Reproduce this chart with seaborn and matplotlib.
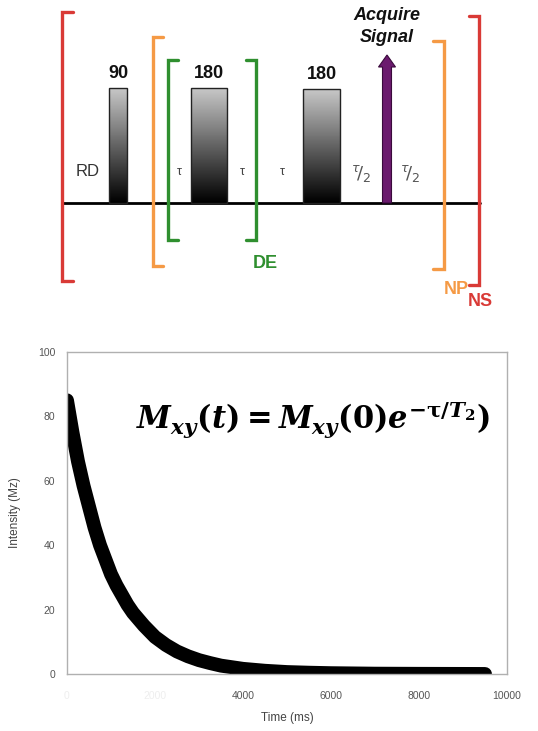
import numpy as np
import pandas as pd
import matplotlib
matplotlib.use("Agg")
import matplotlib.pyplot as plt
import matplotlib.patches as mpatches
import seaborn as sns

# ---- data ----
time_ms = [0, 125, 250, 375, 500, 625, 750, 875, 1000, 1125, 1250, 1375, 1500,
           1750, 2000, 2250, 2500, 2750, 3000, 3250, 3500, 4000, 4500, 5000,
           5500, 6000, 7000, 8000, 9000, 9500]
intensity = [85, 75, 66, 58.5, 52, 45.5, 40, 35.5, 31, 27.5, 24.5, 21.5, 19,
             15, 11.5, 9, 7, 5.5, 4.3, 3.4, 2.6, 1.6, 1.0, 0.6,
             0.4, 0.25, 0.1, 0.05, 0.02, 0.0]
x_ticks = [0, 2000, 4000, 6000, 8000, 10000]
y_ticks = [0, 20, 40, 60, 80, 100]
pulse_labels = ["90", "180", "180"]
delay_labels = ["RD", "τ", "τ", "τ", "τ/2", "τ/2"]
loop_labels = ["DE", "NP", "NS"]

sns.set_theme(style="white")
plt.rcParams["font.family"] = ["Liberation Sans", "DejaVu Sans"]
plt.rcParams["mathtext.fontset"] = "custom"
plt.rcParams["mathtext.it"] = "DejaVu Serif:italic:bold"
plt.rcParams["mathtext.rm"] = "DejaVu Serif:bold"
plt.rcParams["mathtext.bf"] = "DejaVu Serif:bold"

W, H = 538, 731
fig = plt.figure(figsize=(W / 100, H / 100), dpi=100)

# ---------- pulse sequence diagram (pixel coordinates) ----------
ov = fig.add_axes([0, 0, 1, 1])
ov.set_xlim(0, W)
ov.set_ylim(H, 0)
ov.axis("off")
ov.patch.set_alpha(0)

RED = "#d93a36"
ORANGE = "#f59a45"
GREEN = "#2f8f2f"
PURPLE = "#6b1a6e"

base_y = 203
ov.plot([62, 480], [base_y, base_y], color="black", lw=2, zorder=2)

grad = np.linspace(0.78, 0.0, 100).reshape(-1, 1)
pulses = [(109, 127, 88), (191, 227, 88), (303, 340, 89)]
for (x0, x1, top), lab in zip(pulses, pulse_labels):
    ov.imshow(grad, cmap="gray", vmin=0, vmax=1, extent=(x0, x1, base_y, top),
              aspect="auto", origin="upper", zorder=3)
    ov.add_patch(mpatches.Rectangle((x0, top), x1 - x0, base_y - top, fill=False,
                                    ec="#222222", lw=1.0, zorder=4))
    ov.text((x0 + x1) / 2, top - 6, lab, ha="center", va="bottom", fontsize=13,
            fontweight="bold", color="#111111")
ov.set_xlim(0, W)
ov.set_ylim(H, 0)


def bracket(x, y0, y1, tick, color):
    ov.plot([x + tick, x, x, x + tick], [y0, y0, y1, y1], color=color, lw=2.4,
            solid_joinstyle="miter", zorder=5)


bracket(62, 12, 281, 11, RED)
bracket(479, 16, 285, -10, RED)
bracket(153, 37, 266, 10, ORANGE)
bracket(444, 41, 269, -11, ORANGE)
bracket(168, 60, 240, 10, GREEN)
bracket(256, 60, 240, -10, GREEN)

# delays
ov.text(88, 172, delay_labels[0], ha="center", va="center", fontsize=12, color="#333333")
for xx, lab in zip([179, 242, 282], delay_labels[1:4]):
    ov.text(xx, 172, lab, ha="center", va="center", fontsize=9, color="#444444")
for xx in [361, 410]:
    ov.text(xx, 173, r"$^{τ}\!/_{2}$",
            ha="center", va="center", fontsize=13, color="#555555",
            family=["DejaVu Sans"], math_fontfamily="dejavusans")

# acquire arrow
ov.add_patch(mpatches.FancyArrow(387, base_y, 0, -148, width=9, head_width=17,
                                 head_length=12, length_includes_head=True,
                                 fc=PURPLE, ec="#3a0a3c", lw=0.8, zorder=6))
ov.text(387, 15, "Acquire", ha="center", va="center", fontsize=13,
        fontweight="bold", style="italic", color="#111111")
ov.text(387, 38, "Signal", ha="center", va="center", fontsize=13,
        fontweight="bold", style="italic", color="#111111")

ov.text(265, 263, loop_labels[0], ha="center", va="center", fontsize=13,
        fontweight="bold", color=GREEN)
ov.text(456, 289, loop_labels[1], ha="center", va="center", fontsize=13,
        fontweight="bold", color=ORANGE)
ov.text(480, 302, loop_labels[2], ha="center", va="center", fontsize=13,
        fontweight="bold", color=RED)

# ---------- decay chart ----------
left, right, top_px, bot_px = 67, 507, 352, 674
ax = fig.add_axes([left / W, (H - bot_px) / H, (right - left) / W, (bot_px - top_px) / H])
df = pd.DataFrame({"Time (ms)": time_ms, "Intensity (Mz)": intensity})
sns.lineplot(data=df, x="Time (ms)", y="Intensity (Mz)", ax=ax, color="black",
             lw=10, solid_capstyle="round", solid_joinstyle="round")
ax.set_xlim(0, 10000)
ax.set_ylim(0, 100)
ax.set_xticks(x_ticks)
ax.set_yticks(y_ticks)
ax.set_xticklabels([str(v) for v in x_ticks])
ax.set_yticklabels([str(v) for v in y_ticks])
for sp in ax.spines.values():
    sp.set_visible(True)
    sp.set_color("#b0b0b0")
    sp.set_linewidth(1.0)
ax.tick_params(axis="both", direction="inout", length=5, width=1, color="#a0a0a0",
               labelsize=7.5, labelcolor="#555555", pad=6)
ax.tick_params(axis="x", pad=10)
for i, t in enumerate(ax.get_xticklabels()):
    if i < 2:
        t.set_color("#eeeeee")
ax.set_xlabel("Time (ms)", fontsize=8.5, color="#444444", labelpad=8)
ax.set_ylabel("Intensity (Mz)", fontsize=8.5, color="#444444", labelpad=12)

ax.text(0.962, 0.79, r"$M_{xy}(t) = M_{xy}(0)e^{-\mathrm{\tau}/T_2}$)",
        transform=ax.transAxes, ha="right", va="center", fontsize=22,
        color="black", family=["DejaVu Serif"], fontweight="bold")

fig.savefig("out.png", dpi=100, facecolor="white")
